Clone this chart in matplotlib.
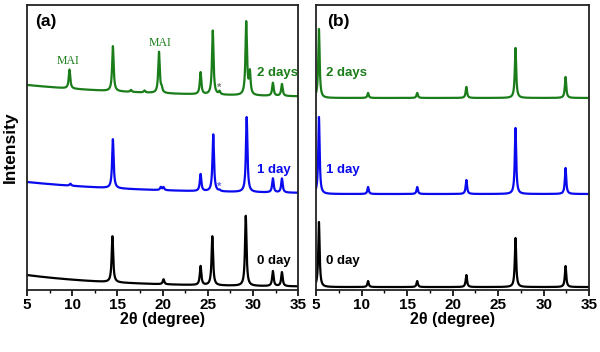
import numpy as np
import matplotlib.pyplot as plt
from matplotlib.ticker import MultipleLocator

# --- data (arbitrary intensity units, stacked) ---
# panel (a): peak positions (2theta), heights above background
a_pos_0 = [14.45, 20.1, 24.2, 25.5, 29.2, 32.2, 33.2]
a_hgt_0 = [46, 5, 19, 49, 70, 15, 14]
a_bg_0 = [3, 12, 10.3]          # offset, amplitude, decay of background

a_pos_1 = [9.8, 14.5, 19.8, 20.1, 24.2, 25.6, 26.3, 29.3, 32.2, 33.2]
a_hgt_1 = [2, 49, 3, 3, 17, 57, 1, 75, 14, 14]
a_bg_1 = [96, 12, 13]

a_pos_2 = [9.7, 14.5, 16.5, 18.0, 19.6, 19.9, 24.2, 25.55, 26.3, 29.25, 29.65, 32.2, 33.2]
a_hgt_2 = [19, 45, 2, 2, 41, 4, 22, 64, 3, 73, 22, 13, 12]
a_bg_2 = [192, 13, 14.6]

# panel (b)
b_pos = [5.3, 10.7, 16.1, 21.5, 26.9, 32.4]
b_hgt_0 = [65, 6, 6, 12, 49, 21]
b_hgt_1 = [77, 7, 7, 14, 66, 26]
b_hgt_2 = [69, 5, 5, 11, 50, 21]
b_base = [3, 96, 192]

labels = ['0 day', '1 day', '2 days']
colors = ['black', '#0a0aee', '#1a7d1a']


def pattern(x, pos, hgt, fwhm=0.2):
    y = np.zeros_like(x)
    g = fwhm / 2
    for p, h in zip(pos, hgt):
        y += h * g**2 / ((x - p)**2 + g**2)
    return y


x = np.linspace(5, 35, 3001)

plt.rcParams['font.family'] = ['Liberation Sans', 'DejaVu Sans']
plt.rcParams['font.weight'] = 'bold'
plt.rcParams['axes.labelweight'] = 'bold'

fig = plt.figure(figsize=(6, 3.52), dpi=100)
ax1 = fig.add_axes([0.045, 0.176, 0.452, 0.81])
ax2 = fig.add_axes([0.527, 0.176, 0.455, 0.81])

a_sets = [(a_pos_0, a_hgt_0, a_bg_0), (a_pos_1, a_hgt_1, a_bg_1), (a_pos_2, a_hgt_2, a_bg_2)]
for (pos, hgt, bg), c in zip(a_sets, colors):
    base = bg[0] + bg[1] * np.exp(-(x - 5) / bg[2])
    ax1.plot(x, base + pattern(x, pos, hgt), color=c, lw=1.6)

for hgt, b, c in zip([b_hgt_0, b_hgt_1, b_hgt_2], b_base, colors):
    ax2.plot(x, b + pattern(x, b_pos, hgt, 0.18), color=c, lw=1.6)

# labels
for ax, xs in [(ax1, 30.4), (ax2, 6.1)]:
    ax.text(xs, 29, labels[0], color=colors[0], fontsize=9.5, va='center')
    ax.text(xs, 120, labels[1], color=colors[1], fontsize=9.5, va='center')
    ax.text(xs, 217, labels[2], color=colors[2], fontsize=9.5, va='center')

ax1.text(5.9, 268, '(a)', fontsize=12.5, va='center')
ax2.text(6.2, 268, '(b)', fontsize=12.5, va='center')
ax1.text(9.55, 229, 'MAI', family='Liberation Serif', weight='normal',
         color=colors[2], fontsize=8.5, ha='center', va='center')
ax1.text(19.7, 247, 'MAI', family='Liberation Serif', weight='normal',
         color=colors[2], fontsize=8.5, ha='center', va='center')
ax1.text(26.3, 202, '*', color='grey', fontsize=8, ha='center', va='center')
ax1.text(26.3, 103, '*', color='#6a6af0', fontsize=8, ha='center', va='center')

for ax in (ax1, ax2):
    ax.set_xlim(5, 35)
    ax.set_ylim(0, 285)
    ax.set_yticks([])
    ax.xaxis.set_major_locator(MultipleLocator(5))
    ax.xaxis.set_minor_locator(MultipleLocator(2.5))
    ax.tick_params(axis='x', which='major', direction='out', length=4, width=1.2,
                   labelsize=11, pad=2)
    ax.tick_params(axis='x', which='minor', direction='out', length=2.5, width=1)
    for s in ax.spines.values():
        s.set_linewidth(1.3)
        s.set_color('#222222')
    ax.set_xlabel('2θ (degree)', fontsize=11.5, labelpad=0)
    for t in ax.get_xticklabels():
        t.set_fontweight('bold')

ax1.set_ylabel('Intensity', fontsize=12.5)
ax1.yaxis.set_label_coords(-0.033, 0.5)

fig.savefig('out.png', dpi=100)
